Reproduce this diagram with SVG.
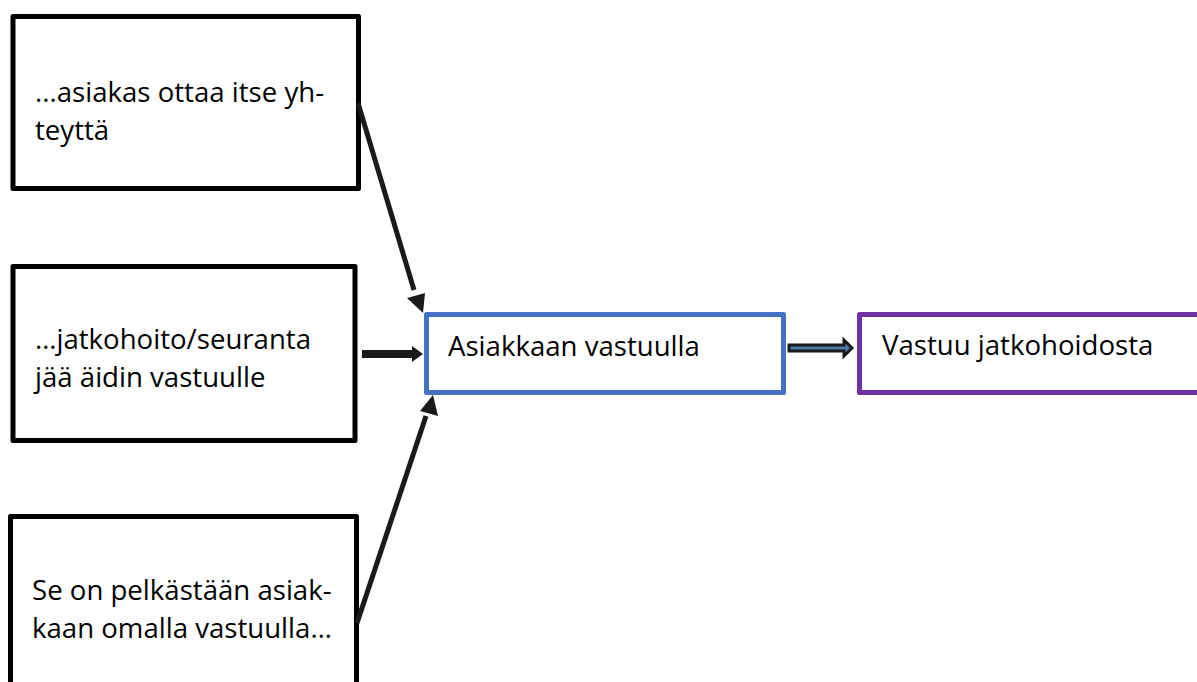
<svg xmlns="http://www.w3.org/2000/svg" width="1197" height="682" viewBox="0 0 1197 682">
<style>
.box{fill:#fff;stroke:#000;stroke-width:5;stroke-linejoin:round}
.t{font-family:"Open Sans","Noto Sans","DejaVu Sans",sans-serif;font-size:27.6px;fill:#000}
.ln{stroke:#1a1a1a;stroke-width:5;fill:none}
.hd{fill:#1a1a1a}
</style>
<rect width="1197" height="682" fill="#fff"/>
<g id="n1">
<rect class="box" x="13" y="16.5" width="345.5" height="172"/>
<text class="t" x="35" y="102">...asiakas ottaa itse yh-</text>
<text class="t" x="35" y="140">teyttä</text>
</g>
<g id="n2">
<rect class="box" x="13" y="266.5" width="342" height="174"/>
<text class="t" x="35" y="349">…jatkohoito/seuranta</text>
<text class="t" x="35" y="387">jää äidin vastuulle</text>
</g>
<g id="n3">
<rect class="box" x="10.5" y="516.5" width="346" height="180"/>
<text class="t" x="32" y="600">Se on pelkästään asiak-</text>
<text class="t" x="32" y="638">kaan omalla vastuulla…</text>
</g>
<g id="n4">
<rect x="426.5" y="314.5" width="357" height="78" fill="#fff" stroke="#4472C4" stroke-width="5" stroke-linejoin="round"/>
<text class="t" x="448" y="356">Asiakkaan vastuulla</text>
</g>
<g id="n5">
<rect x="859.5" y="314.5" width="345" height="78" fill="#fff" stroke="#7030A0" stroke-width="5" stroke-linejoin="round"/>
<text class="t" x="882" y="355">Vastuu jatkohoidosta</text>
</g>
<g id="connectors">
<line class="ln" x1="358" y1="103" x2="414" y2="290"/>
<polygon class="hd" points="423,313 407,298 425,293"/>
<line class="ln" x1="357" y1="623" x2="426" y2="416"/>
<polygon class="hd" points="433,395 438,416 420,411"/>
<line x1="362" y1="354" x2="414" y2="354" stroke="#1a1a1a" stroke-width="8"/>
<polygon class="hd" points="423,354 412,346 412,362"/>
<polygon points="789,345 844,345 844,340 852,348 844,356 844,351 789,351" fill="#4a7aa8" stroke="#1a1a1a" stroke-width="3" stroke-linejoin="miter"/>
</g>
</svg>
